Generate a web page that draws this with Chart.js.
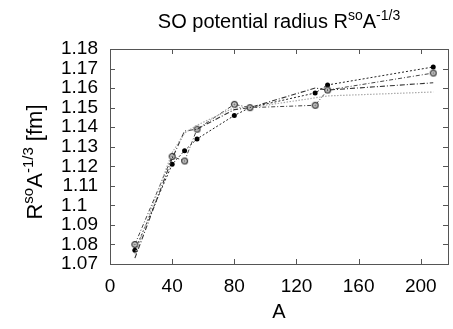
<!DOCTYPE html>
<html>
<head>
<meta charset="utf-8">
<script src="https://cdn.jsdelivr.net/npm/chart.js@4/dist/chart.umd.min.js"></script>
<style>
html,body{margin:0;padding:0;background:#fff;}
#wrap{width:453px;height:329px;position:relative;}
</style>
</head>
<body>
<div id="wrap"><canvas id="c" width="453" height="329"></canvas></div>
<script>
// ---- data ----
const massNumbers = [16, 40, 48, 56, 80, 90, 132, 140, 208];
const seriesFilled = [1.077, 1.121, 1.128, 1.134, 1.146, 1.150, 1.1575, 1.1616, 1.1708];
const seriesOpen   = [1.080, 1.125, 1.1227, 1.139, 1.1517, 1.150, 1.1512, 1.159, 1.1677];
const seriesDashed = [1.073, 1.124, 1.138, 1.139, 1.149, 1.150, 1.160, 1.159, 1.1627];
const seriesDotted = [1.075, 1.127, 1.137, 1.141, 1.150, 1.150, 1.155, 1.156, 1.158];
const xTicks = [0, 40, 80, 120, 160, 200];
const yTicks = [1.07, 1.08, 1.09, 1.10, 1.11, 1.12, 1.13, 1.14, 1.15, 1.16, 1.17, 1.18];

const FONT = "'Liberation Sans', Arial, sans-serif";

function pts(vals){ return massNumbers.map((a,i)=>({x:a, y:vals[i]})); }

// open circle marker (ring with light centre and dot)
const ring = document.createElement('canvas');
ring.width = 9; ring.height = 9;
(function(){
  const g = ring.getContext('2d');
  g.beginPath(); g.arc(4.5,4.5,2.9,0,Math.PI*2);
  g.fillStyle = '#ddd'; g.fill();
  g.lineWidth = 1.2; g.strokeStyle = '#333'; g.stroke();
  g.beginPath(); g.arc(4.5,4.5,1.0,0,Math.PI*2);
  g.fillStyle = '#666'; g.fill();
})();

const frame = {
  id: 'frame',
  afterDraw(chart){
    const {ctx, chartArea:a, scales} = chart;
    const x = scales.x, y = scales.y;
    ctx.save();
    ctx.strokeStyle = '#555';
    ctx.lineWidth = 1;
    ctx.strokeRect(a.left+0.5, a.top+0.5, a.right-a.left, a.bottom-a.top);
    const L = 5;
    ctx.beginPath();
    xTicks.forEach(v=>{
      const px = Math.round(x.getPixelForValue(v))+0.5;
      ctx.moveTo(px, a.bottom); ctx.lineTo(px, a.bottom-L);
      ctx.moveTo(px, a.top); ctx.lineTo(px, a.top+L);
    });
    yTicks.forEach(v=>{
      const py = Math.round(y.getPixelForValue(v))+0.5;
      ctx.moveTo(a.left, py); ctx.lineTo(a.left+L, py);
      ctx.moveTo(a.right, py); ctx.lineTo(a.right-L, py);
    });
    ctx.stroke();

    // title with superscripts
    ctx.fillStyle = '#000';
    ctx.textBaseline = 'alphabetic';
    const big = '20px ' + FONT, small = '14px ' + FONT;
    const parts = [['SO potential radius R', big, 0], ['so', small, -8], ['A', big, 0], ['-1/3', small, -8]];
    let w = 0;
    parts.forEach(p=>{ ctx.font = p[1]; w += ctx.measureText(p[0]).width; });
    let cx = (a.left + a.right)/2 - w/2;
    const ty = 28;
    parts.forEach(p=>{ ctx.font = p[1]; ctx.textAlign='left'; ctx.fillText(p[0], cx, ty + p[2]); cx += ctx.measureText(p[0]).width; });

    // x-axis title
    ctx.font = big; ctx.textAlign = 'center';
    ctx.fillText('A', (a.left+a.right)/2, 318);

    // y-axis title rotated
    const ybig = '22px ' + FONT, ysmall = '15px ' + FONT;
    const yparts = [['R', ybig, 0], ['so', ysmall, -9], ['A', ybig, 0], ['-1/3', ysmall, -9], [' [fm]', ybig, 0]];
    w = 0;
    yparts.forEach(p=>{ ctx.font = p[1]; w += ctx.measureText(p[0]).width; });
    ctx.translate(42, 162);
    ctx.rotate(-Math.PI/2);
    let sx = -w/2;
    yparts.forEach(p=>{ ctx.font = p[1]; ctx.textAlign='left'; ctx.fillText(p[0], sx, p[2]); sx += ctx.measureText(p[0]).width; });
    ctx.restore();
  }
};

new Chart(document.getElementById('c'), {
  type: 'line',
  data: {
    datasets: [
      { data: pts(seriesDotted), borderColor: '#aaa', borderWidth: 1.2, borderDash: [1.5,1.5], pointRadius: 0, tension: 0 },
      { data: pts(seriesDashed), borderColor: '#333', borderWidth: 1.1, borderDash: [5,2,1,2], pointRadius: 0, tension: 0 },
      { data: pts(seriesOpen), borderColor: '#444', borderWidth: 1, borderDash: [4,2,1,2], pointStyle: ring, pointRadius: 3.5, tension: 0 },
      { data: pts(seriesFilled), borderColor: '#222', borderWidth: 1, borderDash: [2,2], pointStyle: 'circle', pointRadius: 2.5, pointBackgroundColor: '#000', pointBorderColor: '#000', pointBorderWidth: 0, tension: 0 }
    ]
  },
  options: {
    responsive: false,
    animation: false,
    devicePixelRatio: 1,
    layout: { padding: { left: 0, right: 3, top: 49, bottom: 0 } },
    plugins: { legend: { display: false }, title: { display: false }, tooltip: { enabled: false } },
    scales: {
      x: {
        type: 'linear', min: 0, max: 217.5,
        grid: { display: false, drawTicks: false }, border: { display: false },
        afterBuildTicks(s){ s.ticks = xTicks.map(v=>({value:v})); },
        afterFit(s){ s.height = 65; },
        ticks: { color: '#000', font: { family: FONT, size: 19 }, padding: 11, maxRotation: 0, callback: v => String(v) }
      },
      y: {
        type: 'linear', min: 1.07, max: 1.18,
        grid: { display: false, drawTicks: false }, border: { display: false },
        afterBuildTicks(s){ s.ticks = yTicks.map(v=>({value:v})); },
        afterFit(s){ s.width = 110; },
        ticks: { color: '#000', font: { family: FONT, size: 19 }, padding: 12, autoSkip: false,
          callback: v => { let t = (+v).toFixed(2); if (t.endsWith('0')) t = t.slice(0,-1) + '\u2007'; return t; } }
      }
    }
  },
  plugins: [frame]
});
</script>
</body>
</html>
